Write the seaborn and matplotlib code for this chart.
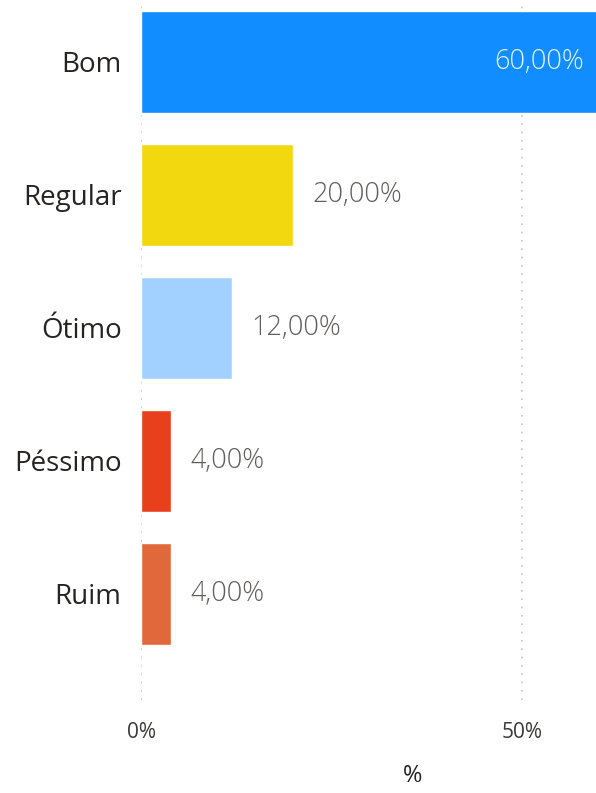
import matplotlib
matplotlib.use("Agg")
import matplotlib.pyplot as plt
import seaborn as sns
import pandas as pd

categories = ["Bom", "Regular", "Ótimo", "Péssimo", "Ruim"]
values = [60.0, 20.0, 12.0, 4.0, 4.0]
colors = ["#118DFF", "#F2D80F", "#A3D1FF", "#E8401C", "#E1683A"]
value_labels = ["60,00%", "20,00%", "12,00%", "4,00%", "4,00%"]
tick_values = [0, 50]
tick_labels = ["0%", "50%"]

df = pd.DataFrame({"cat": categories, "val": values})

sns.set_style("white")
plt.rcParams["font.family"] = ["Open Sans", "DejaVu Sans"]

fig = plt.figure(figsize=(5.96, 7.93), dpi=100)
ax = fig.add_axes([141 / 596, 1 - 700 / 793, (596 - 141) / 596, 700 / 793])

sns.barplot(data=df, x="val", y="cat", hue="cat", palette=dict(zip(categories, colors)),
            legend=False, width=0.76, ax=ax, orient="h", saturation=1)

ax.set_xlim(0, 59.7)
ax.set_ylim((700 - 62) / 133, -62 / 133)

for x in tick_values:
    ax.axvline(x, color="#C8C6C4", linestyle=(0, (1, 4)), linewidth=1.2, zorder=0)

for i, (v, lab) in enumerate(zip(values, value_labels)):
    if v >= 50:
        ax.text(v - 1.9, i, lab, ha="right", va="center", fontsize=19.5,
                color="#E3F3FF", fontweight="light")
    else:
        ax.text(v + 2.5, i, lab, ha="left", va="center", fontsize=19.5,
                color="#605E5C", fontweight="light")

ax.set_xticks(tick_values)
ax.set_xticklabels(tick_labels, fontsize=15, color="#3B3A39")
ax.tick_params(axis="x", length=0, pad=16)
ax.tick_params(axis="y", length=0, pad=14, labelsize=20, labelcolor="#252423")
ax.set_ylabel("")
ax.set_xlabel("%", fontsize=17, color="#252423")
ax.xaxis.set_label_coords((413 - 141) / (596 - 141), -0.092)

for s in ax.spines.values():
    s.set_visible(False)

fig.savefig("out.png", dpi=100)
